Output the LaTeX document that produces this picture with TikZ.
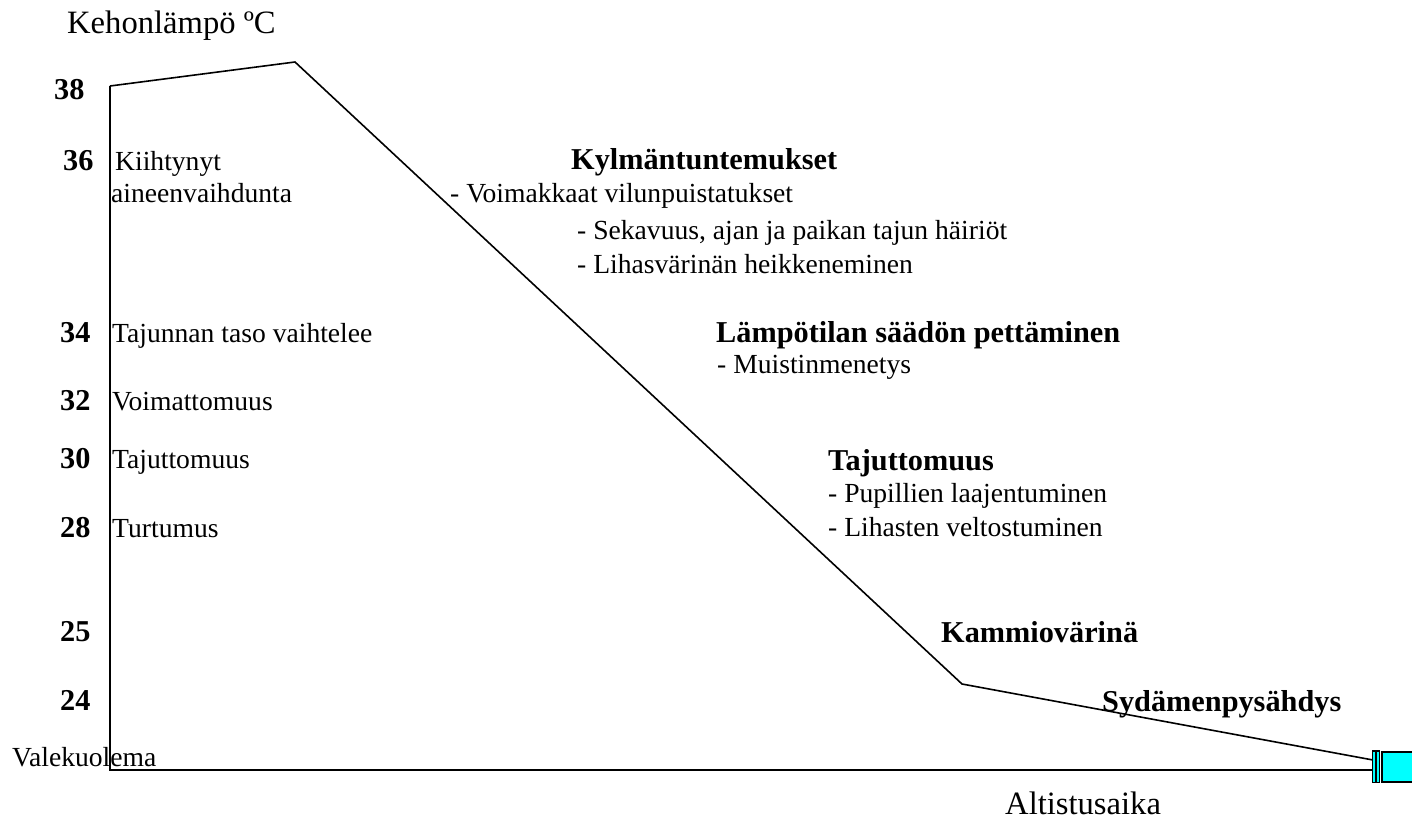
\documentclass[tikz,border=0pt]{standalone}
\usepackage{fontspec}
\setmainfont{Liberation Serif}
\definecolor{devcyan}{RGB}{0,255,255}
\begin{document}
\begin{tikzpicture}[x=1pt,y=-1pt,
  lbl/.style={anchor=base west,inner sep=0pt,font=\fontsize{27.6}{32}\selectfont},
  blbl/.style={anchor=base west,inner sep=0pt,font=\fontsize{30.3}{34}\selectfont\bfseries},
  big/.style={anchor=base west,inner sep=0pt,font=\fontsize{32.6}{38}\selectfont},
  curve/.style={line width=1.6pt,line join=miter},
  axis/.style={line width=1.8pt},
  bar/.style={draw=black,fill=devcyan,line width=1.2pt}]
\useasboundingbox (0,0) rectangle (1412,821);
% axes
\coordinate (top) at (110,86);
\coordinate (origin) at (110,770);
\coordinate (xend) at (1373,770);
\draw[axis] (top) -- (origin) -- (xend);
% temperature curve
\coordinate (peak) at (295,62);
\coordinate (knee) at (962,684);
\coordinate (endp) at (1373,760);
\draw[curve] (top) -- (peak) -- (knee) -- (endp);
% cyan device at end
\draw[bar] (1372.5,751) rectangle (1375.5,782.5);
\draw[bar] (1376.5,751) rectangle (1379.5,782.5);
\draw[bar] (1382,752) rectangle (1414,782);
% axis titles
\node[big] (ytitle) at (67,34) {Kehonlämpö ºC};
\node[big] (xtitle) at (1005,814) {Altistusaika};
% tick numbers
\node[blbl] (t38) at (54,100) {38};
\node[blbl] (t36) at (63,171) {36};
\node[blbl] (t34) at (60,342) {34};
\node[blbl] (t32) at (60,410) {32};
\node[blbl] (t30) at (60,468) {30};
\node[blbl] (t28) at (60,537) {28};
\node[blbl] (t25) at (60,641) {25};
\node[blbl] (t24) at (60,710) {24};
% left labels
\node[lbl] (l36a) at (115,171) {Kiihtynyt};
\node[lbl] (l36b) at (111,202) {aineenvaihdunta};
\node[lbl] (l34) at (112,342) {Tajunnan taso vaihtelee};
\node[lbl] (l32) at (112,410) {Voimattomuus};
\node[lbl] (l30) at (112,468) {Tajuttomuus};
\node[lbl] (l28) at (112,537) {Turtumus};
\node[lbl] (lvk) at (12,766) {Valekuolema};
% stage texts
\node[blbl] (s1) at (571,170) {Kylmäntuntemukset};
\node[lbl] (s1a) at (450,202) {- Voimakkaat vilunpuistatukset};
\node[lbl] (s1b) at (577,239) {- Sekavuus, ajan ja paikan tajun häiriöt};
\node[lbl] (s1c) at (577,273) {- Lihasvärinän heikkeneminen};
\node[blbl] (s2) at (716,342) {Lämpötilan säädön pettäminen};
\node[lbl] (s2a) at (717,373) {- Muistinmenetys};
\node[blbl] (s3) at (828,470) {Tajuttomuus};
\node[lbl] (s3a) at (828,502) {- Pupillien laajentuminen};
\node[lbl] (s3b) at (828,536) {- Lihasten veltostuminen};
\node[blbl] (s4) at (941,642) {Kammiovärinä};
\node[blbl] (s5) at (1102,711) {Sydämenpysähdys};
\end{tikzpicture}
\end{document}
